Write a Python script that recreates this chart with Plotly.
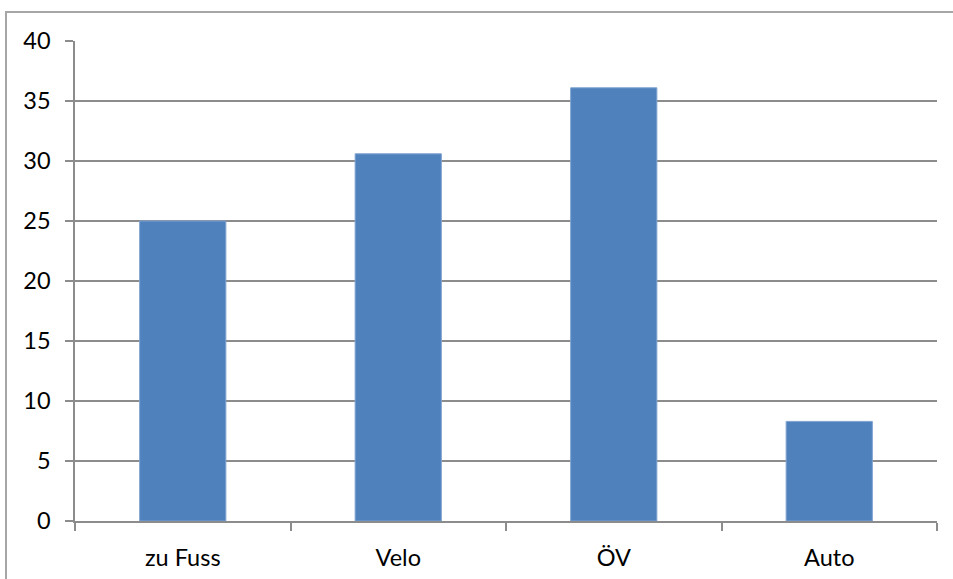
import plotly.graph_objects as go

# Modal split by mode of transport
categories = ["zu Fuss", "Velo", "ÖV", "Auto"]
values = [25.0, 30.6, 36.1, 8.3]
y_ticks = [0, 5, 10, 15, 20, 25, 30, 35, 40]

W, H = 953, 579
L, R, T, B = 75, 16, 41, 58
pw, ph = W - L - R, H - T - B

grid = "#8c8c8c"
font = dict(family="Lato, 'Open Sans', sans-serif", size=23.5, color="#000000")

fig = go.Figure(
    go.Bar(
        x=categories,
        y=values,
        marker=dict(color="#4f81bd", line=dict(color="#7fa3d0", width=1)),
        width=0.4,
    )
)

# outer chart frame (left and top edges visible)
fig.add_shape(
    type="rect",
    xref="paper", yref="paper",
    x0=(6 - L) / pw, x1=(W + 20 - L) / pw,
    y0=-(H + 20 - T - ph) / ph, y1=(ph + T - 12) / ph,
    line=dict(color="#a6a6a6", width=2),
    layer="below",
)

fig.update_layout(
    width=W, height=H,
    margin=dict(l=L, r=R, t=T, b=B),
    paper_bgcolor="white",
    plot_bgcolor="white",
    showlegend=False,
    font=font,
    xaxis=dict(
        automargin=False,
        showgrid=False,
        showline=True, linecolor=grid, linewidth=1.5,
        ticks="outside", tickson="boundaries", ticklen=8,
        tickcolor=grid, tickwidth=1.5,
        ticklabelstandoff=15,
        tickfont=font,
    ),
    yaxis=dict(
        automargin=False,
        range=[0, 40],
        tickvals=y_ticks,
        showgrid=True, gridcolor=grid, gridwidth=1.5,
        zeroline=False,
        showline=True, linecolor=grid, linewidth=1.5,
        ticks="outside", ticklen=8, tickcolor=grid, tickwidth=1.5,
        ticklabelstandoff=10,
        tickfont=font,
    ),
)

fig.write_html("out.html")
